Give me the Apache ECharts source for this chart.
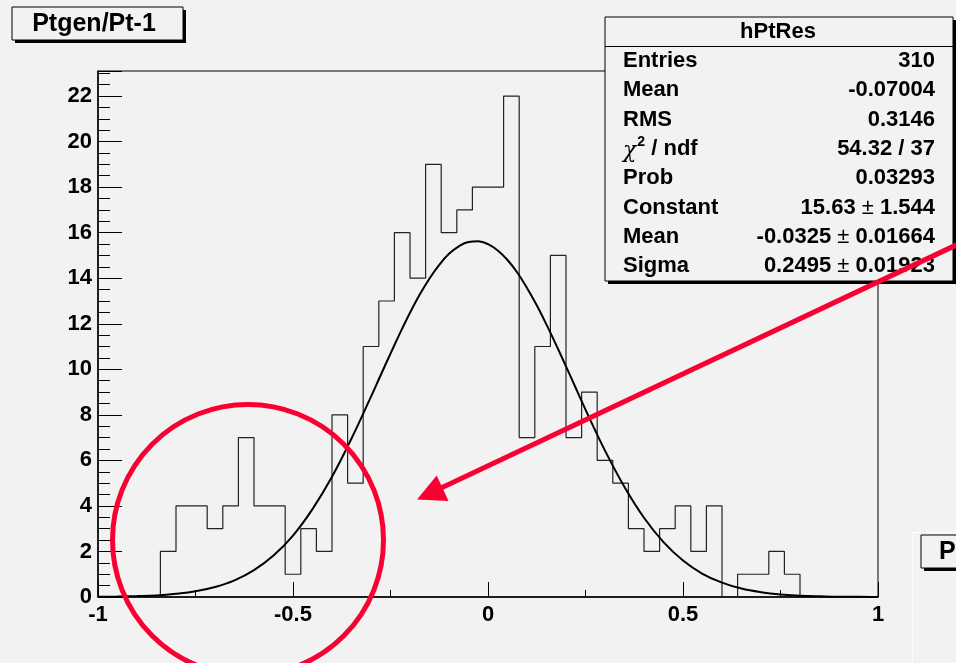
<!DOCTYPE html>
<html>
<head>
<meta charset="utf-8">
<script src="https://cdn.jsdelivr.net/npm/echarts@6/dist/echarts.min.js"></script>
<style>
    html, body { margin: 0; padding: 0; background: #f2f2f2; }
    #myCharts { width: 956px; height: 663px; }
</style>
</head>
<body>
<div id="myCharts"></div>
<script>
    // histogram: 50 bins from -1 to 1 (width 0.04)
    const binLow = -1;
    const binWidth = 0.04;
    const counts = [0, 0, 0, 0, 2, 4, 4, 3, 4, 7,
                    4, 4, 1, 3, 2, 8, 5, 11, 13, 16,
                    14, 19, 16, 17, 18, 18, 22, 7, 11, 15,
                    7, 9, 6, 5, 3, 2, 3, 4, 2, 4,
                    0, 1, 1, 2, 1, 0, 0, 0, 0, 0];

    // gaus fit curve
    const fitX = [-1.00, -0.95, -0.90, -0.85, -0.80, -0.75, -0.70, -0.65, -0.60, -0.55,
                  -0.50, -0.45, -0.40, -0.35, -0.30, -0.275, -0.25, -0.225, -0.20, -0.175,
                  -0.15, -0.125, -0.10, -0.075, -0.05, -0.025, 0.00, 0.025, 0.05, 0.075,
                   0.10, 0.125, 0.15, 0.175, 0.20, 0.225, 0.25, 0.275, 0.30, 0.35,
                   0.40, 0.45, 0.50, 0.55, 0.60, 0.65, 0.70, 0.75, 0.80, 0.85,
                   0.90, 0.95, 1.00];
    const fitY = [0.01, 0.02, 0.04, 0.07, 0.14, 0.25, 0.44, 0.73, 1.18, 1.82,
                  2.70, 3.86, 5.28, 6.96, 8.80, 9.75, 10.69, 11.61, 12.48, 13.28,
                  13.99, 14.59, 15.07, 15.40, 15.59, 15.62, 15.50, 15.22, 14.80, 14.25,
                  13.57, 12.81, 11.96, 11.06, 10.13, 9.18, 8.23, 7.31, 6.43, 4.83,
                  3.48, 2.41, 1.60, 1.02, 0.63, 0.37, 0.21, 0.11, 0.06, 0.03,
                  0.01, 0.01, 0.00];

    // stats box rows
    const statLabels = ['Entries', 'Mean', 'RMS', '{chi|χ}{sup|2}{n| / ndf}', 'Prob', 'Constant', 'Mean', 'Sigma'];
    const statValues = ['310', '-0.07004', '0.3146', '54.32 / 37', '0.03293',
                        '15.63 {pm|±} 1.544', '-0.0325 {pm|±} 0.01664', '0.2495 {pm|±} 0.01923'];

    const FONT = '"Liberation Sans", Arial, sans-serif';
    const RED = '#fa0032';

    // outline of the histogram
    let histLine = [];
    for (let i = 0; i < counts.length; i++) {
        let lo = binLow + i * binWidth;
        histLine.push([lo, counts[i]]);
        histLine.push([lo + binWidth, counts[i]]);
    }
    let fitLine = fitX.map((x, i) => [x, fitY[i]]);

    let rich = {
        chi: { fontFamily: 'DejaVu Serif', fontStyle: 'italic', fontSize: 22, fontWeight: 'normal', padding: [5, 0, 0, 0] },
        sup: { fontFamily: FONT, fontWeight: 'bold', fontSize: 14, verticalAlign: 'top', padding: [0, 0, 11, 1] },
        n: { fontFamily: FONT, fontWeight: 'bold', fontSize: 22 },
        pm: { fontFamily: FONT, fontWeight: 'normal', fontSize: 22 }
    };

    let graphics = [];
    // title box
    graphics.push({ type: 'rect', shape: { x: 15, y: 10, width: 171, height: 33 }, style: { fill: '#000' }, z: 50 });
    graphics.push({ type: 'rect', shape: { x: 12, y: 7, width: 171, height: 33 },
        style: { fill: '#f2f2f2', stroke: '#000', lineWidth: 1 }, z: 51 });
    graphics.push({ type: 'text', x: 94, y: 24, z: 52,
        style: { text: 'Ptgen/Pt-1', font: 'bold 25px ' + FONT, fill: '#000', align: 'center', verticalAlign: 'middle' } });

    // stats box
    graphics.push({ type: 'rect', shape: { x: 608, y: 20, width: 348, height: 264 }, style: { fill: '#000' }, z: 50 });
    graphics.push({ type: 'rect', shape: { x: 605, y: 17, width: 348, height: 264 },
        style: { fill: '#f2f2f2', stroke: '#000', lineWidth: 1 }, z: 51 });
    graphics.push({ type: 'line', shape: { x1: 605, y1: 46.5, x2: 953, y2: 46.5 }, style: { stroke: '#000', lineWidth: 1 }, z: 52 });
    graphics.push({ type: 'text', x: 778, y: 32, z: 52,
        style: { text: 'hPtRes', font: 'bold 22px ' + FONT, fill: '#000', align: 'center', verticalAlign: 'middle' } });
    statLabels.forEach((t, i) => {
        let y = 61 + i * 29.3;
        graphics.push({ type: 'text', x: 623, y: y, z: 52,
            style: { text: t, font: 'bold 22px ' + FONT, fill: '#000', align: 'left', verticalAlign: 'middle', rich: rich } });
        graphics.push({ type: 'text', x: 935, y: y, z: 52,
            style: { text: statValues[i], font: 'bold 22px ' + FONT, fill: '#000', align: 'right', verticalAlign: 'middle', rich: rich } });
    });

    // the other pad peeking in at the right edge
    graphics.push({ type: 'polyline', shape: { points: [[912.5, 663], [912.5, 532.5], [956, 532.5]] },
        style: { stroke: '#fdfdfd', lineWidth: 1, fill: null }, z: 40 });
    graphics.push({ type: 'rect', shape: { x: 924, y: 538, width: 60, height: 33 }, style: { fill: '#000' }, z: 50 });
    graphics.push({ type: 'rect', shape: { x: 921, y: 535, width: 60, height: 33 },
        style: { fill: '#f2f2f2', stroke: '#000', lineWidth: 1 }, z: 51 });
    graphics.push({ type: 'text', x: 939, y: 552, z: 52,
        style: { text: 'P', font: 'bold 25px ' + FONT, fill: '#000', align: 'left', verticalAlign: 'middle' } });

    // red annotations
    graphics.push({ type: 'circle', shape: { cx: 248, cy: 540, r: 135.5 },
        style: { fill: null, stroke: RED, lineWidth: 5 }, z: 100 });
    graphics.push({ type: 'line', shape: { x1: 962, y1: 242.3, x2: 440, y2: 488.6 },
        style: { stroke: RED, lineWidth: 5 }, z: 100 });
    graphics.push({ type: 'polygon', shape: { points: [[417, 499.5], [436.7, 475.5], [448.5, 501]] },
        style: { fill: RED }, z: 100 });

    const myCharts = echarts.init(document.getElementById('myCharts'));
    let options = {
        backgroundColor: '#f2f2f2',
        animation: false,
        grid: {
            left: 98, right: 78, top: 71, bottom: 66,
            show: true, borderColor: '#000', borderWidth: 1, backgroundColor: 'transparent'
        },
        xAxis: {
            type: 'value', min: -1, max: 1, interval: 0.5,
            axisLine: { onZero: false, lineStyle: { color: '#000', width: 1.5 } },
            axisTick: { inside: true, length: 15, lineStyle: { color: '#000' } },
            minorTick: { show: true, splitNumber: 2, length: 7, lineStyle: { color: '#000' } },
            splitLine: { show: false },
            axisLabel: { color: '#000', fontFamily: FONT, fontWeight: 'bold', fontSize: 22, margin: 7,
                formatter: v => String(v) }
        },
        yAxis: {
            type: 'value', min: 0, max: 23.1, interval: 2,
            axisLine: { show: true, onZero: false, lineStyle: { color: '#000', width: 1.5 } },
            axisTick: { show: true, inside: true, length: 24, lineStyle: { color: '#000' } },
            minorTick: { show: true, splitNumber: 4, length: 12, lineStyle: { color: '#000' } },
            splitLine: { show: false },
            axisLabel: { color: '#000', fontFamily: FONT, fontWeight: 'bold', fontSize: 22, margin: 6, showMaxLabel: false }
        },
        series: [
            {
                name: 'hPtRes', type: 'line', data: histLine,
                symbol: 'none', lineStyle: { color: '#222', width: 1.2 }, z: 3
            },
            {
                name: 'gaus', type: 'line', data: fitLine, smooth: 0.4,
                symbol: 'none', lineStyle: { color: '#000', width: 2 }, z: 4
            }
        ],
        graphic: graphics
    };
    myCharts.setOption(options);
</script>
</body>
</html>
